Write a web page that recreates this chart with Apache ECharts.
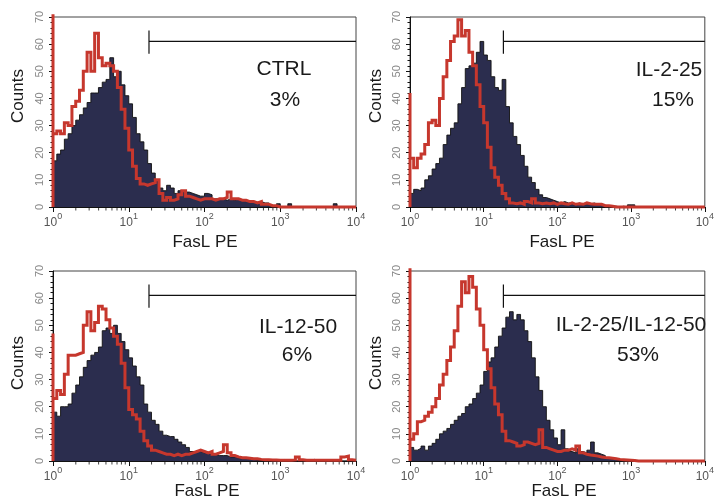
<!DOCTYPE html>
<html><head><meta charset="utf-8">
<script src="https://cdn.jsdelivr.net/npm/echarts@6/dist/echarts.min.js"></script>
<style>html,body{margin:0;padding:0;background:#fff}#c{width:717px;height:501px}</style>
</head><body><div id="c"></div>
<script>
// channel width in decades (bins start at 10^0)
const STEP = 0.05;
const panelNames = ['CTRL', 'IL-2-25', 'IL-12-50', 'IL-2-25/IL-12-50'];
const panelPercents = ['3%', '15%', '6%', '53%'];
const xTickLabels = ['0', '1', '2', '3', '4'];
// log-axis minor tick values
const xMinorTicks = [2,3,4,5,6,7,8,9,20,30,40,50,60,70,80,90,200,300,400,500,600,700,800,900,2000,3000,4000,5000,6000,7000,8000,9000];

// filled (treated) histograms, counts per channel
const ctrlFill = [17,19.5,21,25,27,30,32,34,36.5,38.5,
 42,42,44,46,47,55,48,50,45,41,
 38,33,27,24,21,16,12.5,10,7,6,
 8,7,5,6,5.5,5.5,5,4.5,4,4,
 5,4.5,3,3,3,2.5,3,2.5,3,2.5,
 2.5,2,2,1.5,2,1.5,1.5,0.5,0,1.2,
 0,0,1.2,0,0,0,0,0,0,0,
 0,0,0,0,1.2,0,0,0,0,0,
 0];
const il2Fill = [5,6.5,6,7,10,11.5,14,16,18,23,
 26.5,29,31,38,44,51,52,53,57,61,
 56,54,48,44,43,47,37,31,26,23,
 19,15,11,9,6.5,4.5,3.5,3,2.5,2,
 1.5,2,1.5,1.5,1,1.5,1,1,1,1.5,
 1,0.8,0.5,0.5,0.3,0.3,0,0.3,0,0.8,
 0.8,0,0,0,0,0,0,0,0,0,
 0,0,0,0,0,0,0,0,0,0,
 0];
const il12Fill = [18,16.5,20,20,21,25,28,31,34.5,37,
 39,40,42,48,49,47,50,47,44,41,
 38,35,31,28,21,18,15,13.5,11,9.5,
 9,9,8,7,6,5,3.5,3.5,3.5,3,
 3,2.5,2.5,2,2,2,1.5,1.5,1.2,1,
 1,0.8,0.6,0.4,0.2,0,0,0,0,0,
 0.6,0,0,0,0,0,0,0,0.6,0,
 0,0,0,0,0,0,0,0,0,0,
 0];
const comboFill = [5,4,4.7,5.5,4,5.5,6.5,8,10,11,
 12,13.5,15,16.5,17.5,20,21,23,25,28,
 33,36.5,38,42,46,49,53,55,52,54,
 52,48,44,38,31,26,20,15,11.5,8.5,
 6,11.5,4.5,3.5,3,4.5,3.5,3,4,7,
 3,2.5,2,1.2,0.8,0.5,0.3,0,0,0,
 0,0,0,0,0,0,0,0,0,0,
 0,0,0,0,0,0,0,0,0,0,
 0];

// red (control) histograms; first channel count is separate (off-scale spike at 10^0)
const firstChannel = [71, 42, 47, 71];
const ctrlLine = [27,28,27,31,30,37,39,43,50,57,
 50,64,55,52,53,52,50,44,36,29,
 21,15,10.5,8.5,8,8.5,9,10,5,2.5,
 3.5,2.5,3,4.5,6,4,3.5,3,2.5,3,
 3,3,2.5,3,3,3.5,5.5,3,3,2.5,
 2.5,2,2,1.5,2,1,1,0.5,0.5,0,
 0,0,0,0,0,0,0,0,0,0,
 0,0,0,0,0,0,0,0,0,0,
 0];
const il2Line = [18,14.5,18,19.5,23,31,32,30,40,48,
 54,61,63,69,63,65,57,52,45,37,
 31,22,14.5,11,8,5,3,1.5,1.2,1.5,
 1,2,1.5,3,1.5,1.2,1.5,1.2,1.5,1,
 1.5,1.2,1,1.5,1,1.2,1,1.5,1.2,1,
 1,1,0.5,0.5,0.3,0,0,0,0,0,
 0,0,0,0,0,0,0,0,0,0,
 0,0,0,0,0,0,0,0,0,0,
 0];
const il12Line = [23,26,24.5,32,39,39,39.5,40,50,55,
 48,51,57,56,52,49,46,43,36,27,
 19,17,15.5,11,7.5,5.5,4,3.5,3,2.5,
 2.5,2,2.5,2,2.5,2.5,3,3.5,4,3.5,
 3,3.5,2.5,3,3.5,6,3,2,1.5,1.2,
 1.2,1,0.8,0.8,0.6,0.5,0.5,0.4,0.4,0.3,
 0.3,0.3,0.3,0.4,1.5,0.5,0.3,0.3,0.3,0.3,
 0.3,0.3,0.3,0.3,0.3,0.3,1.5,1.8,0.5,0.3,
 0.3];
const comboLine = [8,10,14.5,15,16.5,18,20,23,28,32,
 37,42,48,57,66,62,68,64,56,50,
 41,34,27,21,17,11,7.5,7,6.5,5.5,
 6,7,6.5,6,6.5,11.5,5,4.5,4,3.5,
 3.5,4,4,4.5,4,5.5,3,2.5,2.2,2,
 1.8,1.5,1.3,1.2,1,0.8,0.6,0.5,0.4,0.3,
 0.2,0,0,0,0,0,0,0,0,0,
 0,0,0,0,0,0,0,0,0,0,
 0];

// gate marker (FasL PE value and count levels)
const gateStart = 18.5;
const gateLevel = 61;
const gateTick = [56.5, 65];

const fills = [ctrlFill, il2Fill, il12Fill, comboFill];
const lines = [ctrlLine, il2Line, il12Line, comboLine];

const FONT = '"Liberation Sans", Arial, Helvetica, sans-serif';
const NAVY = '#2b2d4e';
const RED = '#c6372d';

const grids = [
  {left: 53, top: 17, width: 303, height: 190},
  {left: 410, top: 17, width: 303, height: 190},
  {left: 53, top: 271, width: 303, height: 190},
  {left: 410, top: 271, width: 303, height: 190}
];

function chan(k) { return Math.pow(10, k * STEP); }

const xAxes = [], yAxes = [], series = [], graphics = [];
grids.forEach((g, i) => {
  g.show = true; g.borderColor = '#444'; g.borderWidth = 1;
  xAxes.push({
    type: 'log', logBase: 10, min: 1, max: 10000, gridIndex: i,
    axisLine: {show: true, lineStyle: {color: '#111', width: 1}},
    axisTick: {show: true, length: 5, lineStyle: {color: '#111'}},
    splitLine: {show: false},
    axisLabel: {
      margin: 5,
      formatter: v => '{b|10}{s|' + xTickLabels[Math.round(Math.log10(v))] + '}',
      rich: {
        b: {fontSize: 12, color: '#555', fontFamily: FONT, lineHeight: 17, verticalAlign: 'bottom'},
        s: {fontSize: 9, color: '#555', fontFamily: FONT, verticalAlign: 'top'}
      }
    }
  });
  yAxes.push({
    type: 'value', min: 0, max: 70, interval: 10, gridIndex: i,
    axisLine: {show: true, lineStyle: {color: '#111', width: 1}},
    axisTick: {show: true, length: 4, lineStyle: {color: '#111'}},
    minorTick: {show: true, splitNumber: 5, length: 2.5, lineStyle: {color: '#111'}},
    splitLine: {show: false}, minorSplitLine: {show: false},
    axisLabel: {rotate: 90, fontSize: 11, color: '#888', fontFamily: FONT, margin: 8}
  });
  const fillData = fills[i].map((v, k) => [chan(k), v]);
  const lineData = [[1, 0], [1, firstChannel[i]]].concat(lines[i].map((v, k) => [chan(k), v]));
  series.push({
    type: 'line', xAxisIndex: i, yAxisIndex: i, data: fillData, step: 'end',
    symbol: 'none', z: 2, animation: false,
    lineStyle: {color: '#111', width: 0.9},
    areaStyle: {color: NAVY, opacity: 1}
  });
  series.push({
    type: 'line', xAxisIndex: i, yAxisIndex: i, data: lineData, step: 'end',
    symbol: 'none', z: 5, animation: false, clip: false,
    lineStyle: {color: RED, width: 3, join: 'miter'}
  });
  series.push({
    type: 'line', xAxisIndex: i, yAxisIndex: i, symbol: 'none', z: 4, animation: false,
    data: [[gateStart, gateLevel], [10000, gateLevel]],
    lineStyle: {color: '#111', width: 1.2}
  });
  series.push({
    type: 'line', xAxisIndex: i, yAxisIndex: i, symbol: 'none', z: 4, animation: false,
    data: [[gateStart, gateTick[0]], [gateStart, gateTick[1]]],
    lineStyle: {color: '#111', width: 1.2}
  });
  // log minor ticks under the x axis
  series.push({
    type: 'scatter', xAxisIndex: i, yAxisIndex: i, silent: true, clip: false,
    z: 1, animation: false,
    data: xMinorTicks.map(v => [v, 0]),
    symbol: 'rect', symbolSize: [1, 3], symbolOffset: [0, 2],
    itemStyle: {color: '#111'}
  });
});

const namePos = [
  {n: [284, 69], p: [285, 100], c: [18, 96], f: [205, 242]},
  {n: [669, 70], p: [673, 100], c: [376, 96], f: [562, 242]},
  {n: [298, 327], p: [297, 355], c: [18, 363], f: [207, 491]},
  {n: [631, 325], p: [638, 355], c: [376, 363], f: [564, 491]}
];
namePos.forEach((q, i) => {
  const txt = (t, pos, size, extra) => Object.assign({
    type: 'text', x: pos[0], y: pos[1], z: 10,
    style: {text: t, font: size + 'px ' + FONT, fill: '#1a1a1a',
      align: 'center', verticalAlign: 'middle', textAlign: 'center', textVerticalAlign: 'middle'}
  }, extra || {});
  graphics.push(txt(panelNames[i], q.n, 21));
  graphics.push(txt(panelPercents[i], q.p, 21));
  graphics.push(txt('Counts', q.c, 17, {rotation: Math.PI / 2}));
  graphics.push(txt('FasL PE', q.f, 17));
});

const chart = echarts.init(document.getElementById('c'), null, {renderer: 'canvas'});
chart.setOption({
  animation: false,
  backgroundColor: '#fff',
  grid: grids, xAxis: xAxes, yAxis: yAxes, series: series,
  graphic: graphics
});
</script></body></html>
